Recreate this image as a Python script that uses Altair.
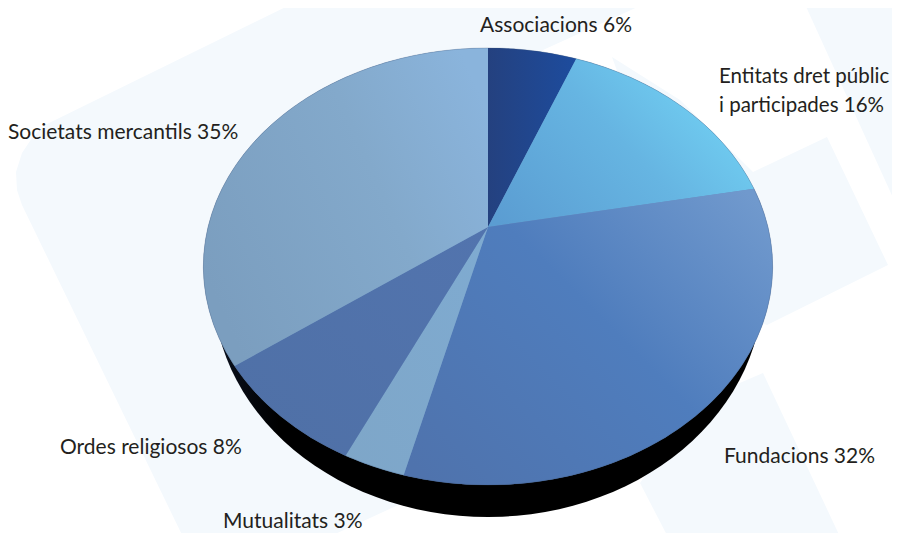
import math
import altair as alt
import pandas as pd

categories = ["Associacions", "Entitats dret públic i participades", "Fundacions",
              "Mutualitats", "Ordes religiosos", "Societats mercantils"]
shares = [6, 16, 32, 3, 8, 35]
label_lines = [["Associacions 6%"], ["Entitats dret públic", "i participades 16%"],
               ["Fundacions 32%"], ["Mutualitats 3%"], ["Ordes religiosos 8%"],
               ["Societats mercantils 35%"]]

# Perspective view of the disc (image pixels)
CX, CY, AX, BY, K = 488.0, 227.0, 280.0, 211.4, 0.1807
W, H, M = 884, 525, 8


def disc(pct):
    t = math.radians(pct * 3.6)
    u, v = math.sin(t), math.cos(t)
    w = 1 + K * v
    return CX + AX * u / w, CY - BY * v / w


def wedge(start, share):
    pts = [(CX, CY)]
    n = max(4, int(share * 4))
    for i in range(n + 1):
        pts.append(disc(start + share * i / n))
    pts.append((CX, CY))
    return pts


def grad(stops, x1, y1, x2, y2):
    return alt.LinearGradient(
        gradient="linear", x1=x1, y1=y1, x2=x2, y2=y2,
        stops=[alt.GradientStop(offset=o, color=c) for o, c in stops])


xs = alt.X("x:Q", scale=alt.Scale(domain=[M, M + W]), axis=None)
ys = alt.Y("y:Q", scale=alt.Scale(domain=[M, M + H], reverse=True), axis=None)


def poly(pts, fill):
    df = pd.DataFrame({"x": [p[0] for p in pts], "y": [p[1] for p in pts], "i": range(len(pts))})
    return alt.Chart(df).mark_line(fill=fill, strokeWidth=0, stroke="transparent", clip=True).encode(
        x=xs, y=ys, order=alt.Order("i:Q"))


BG = "#f4f9fd"
bg_shapes = [
    [(300, 0), (653, 0), (543, 50), (620, 200), (420, 495), (320, 541), (185, 541),
     (22, 205), (17, 190), (16, 172), (22, 153), (32, 138), (45, 125), (300, 0)],
    [(612, 57), (680, 100), (753, 172), (827, 137), (888, 265), (767, 325), (700, 300), (612, 57)],
    [(763, 373), (842, 541), (670, 541), (640, 483), (700, 400), (763, 373)],
    [(803, 0), (900, 213), (900, 0), (803, 0)],
]
layers = [poly(s, BG) for s in bg_shapes]

# black edge of the disc
edge = []
for d in range(0, 361, 3):
    t = math.radians(d)
    edge.append((488 + 275 * math.cos(t), 287 + 230 * math.sin(t)))
layers.append(poly(edge, grad([(0, "#0b1220"), (0.12, "#000000"), (1, "#000000")], 0, 0.5, 1, 0.5)))

# base under the slices, closes the seams between them
layers.append(poly([disc(p) for p in range(0, 101)], "#6a8fbe"))

slice_fills = [
    grad([(0, "#24417f"), (1, "#1d4c9e")], 0, 0.5, 1, 0.5),
    grad([(0, "#5b9dd2"), (0.55, "#66b5e2"), (0.9, "#70cdf1"), (1, "#78cde8")], 0, 0.9, 1, 0.3),
    grad([(0, "#4f73ad"), (0.55, "#4f7dbd"), (1, "#7099cd")], 0, 0.9, 1, 0.1),
    grad([(0, "#7ea6c8"), (1, "#7fabd1")], 0, 1, 1, 0),
    grad([(0, "#4f70a6"), (1, "#5274ae")], 0, 1, 1, 0),
    grad([(0, "#7b9ebf"), (0.6, "#83a9cb"), (1, "#8ab4dc")], 0, 0.7, 1, 0.2),
]
start = 0
for share, fill in zip(shares, slice_fills):
    layers.append(poly(wedge(start, share), fill))
    start += share

# rim of the top face
rim = [disc(p) for p in range(0, 101)]
rim_df = pd.DataFrame({"x": [p[0] for p in rim], "y": [p[1] for p in rim], "i": range(len(rim))})
layers.append(alt.Chart(rim_df).mark_line(stroke="#3b4f70", strokeWidth=1, opacity=0.25).encode(
    x=xs, y=ys, order=alt.Order("i:Q")))

# labels: left edge, vertical centre of first line
anchors = [(480, 25.5), (719, 76.5), (724, 456.5), (223, 522), (60, 447.5), (8, 132.5)]
rows = []
for lines, (ax, ay) in zip(label_lines, anchors):
    for j, line in enumerate(lines):
        rows.append({"x": ax, "y": ay + j * 29, "t": line, "two": len(lines) > 1})
labels = pd.DataFrame(rows)
for two, size in ((False, 21), (True, 20.5)):
    layers.append(alt.Chart(labels[labels["two"] == two]).mark_text(
        align="left", baseline="middle", font="Lato", fontSize=size, color="#231f20").encode(
        x=xs, y=ys, text="t:N"))

chart = alt.layer(*layers).properties(
    width=W, height=H, padding=0, background="transparent",
    autosize=alt.AutoSizeParams(type="none")
).configure_view(stroke=None)

chart.save("out.html", embed_options={"renderer": "svg", "actions": False})
